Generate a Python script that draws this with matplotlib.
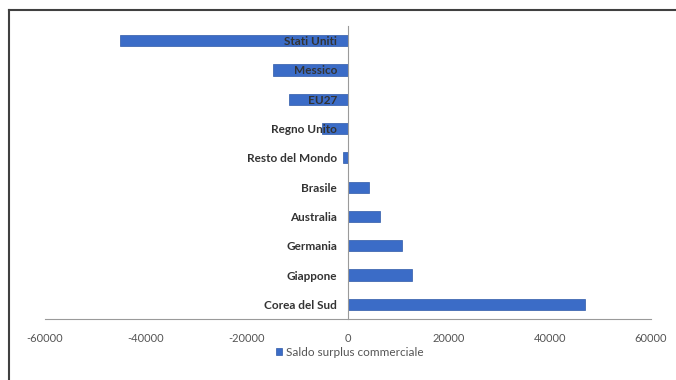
import matplotlib
matplotlib.use("Agg")
import matplotlib.pyplot as plt
from matplotlib.lines import Line2D
from matplotlib.ticker import FuncFormatter

categories = ["Corea del Sud", "Giappone", "Germania", "Australia", "Brasile",
              "Resto del Mondo", "Regno Unito", "EU27", "Messico", "Stati Uniti"]
values = [46900, 12600, 10700, 6400, 4100, -1000, -5200, -11700, -14900, -45200]
series_name = "Saldo surplus commerciale"
xticks = [-60000, -40000, -20000, 0, 20000, 40000, 60000]

plt.rcParams['font.family'] = ['Lato', 'DejaVu Sans']

fig = plt.figure(figsize=(6.76, 3.8), dpi=100)
fig.patch.set_facecolor("white")
ax = fig.add_axes([45/676, 1-319/380, (651-45)/676, (319-26)/380])

for s in ["top", "right"]:
    ax.spines[s].set_visible(False)
ax.spines["left"].set_position(("data", 0))
ax.spines["left"].set_color("#9a9a9a")
ax.spines["left"].set_linewidth(0.8)
ax.spines["bottom"].set_color("#9a9a9a")
ax.spines["bottom"].set_linewidth(0.8)

ypos = list(range(len(categories)))
ax.barh(ypos, values, height=0.38, color="#3b6cc7", edgecolor="#2f5aa8",
        linewidth=0.5, label=series_name, zorder=1)

ax.set_xlim(-60000, 60000)
ax.set_ylim(-0.5, len(categories) - 0.5)
ax.set_xticks(xticks)
ax.xaxis.set_major_formatter(FuncFormatter(lambda v, p: f"{int(v)}"))
ax.set_yticks(ypos)
ax.set_yticklabels(categories, fontweight="bold", color="#333333")

ax.tick_params(axis="y", length=0, pad=8, labelsize=8.5)
ax.tick_params(axis="x", length=0, pad=10, labelsize=8, labelcolor="#555555")

leg = fig.legend(loc="center", bbox_to_anchor=(350/676, 1-352/380), frameon=False,
                 fontsize=8.5, handlelength=0.5, handleheight=0.5, handletextpad=0.3,
                 labelcolor="#555555")

# figure border (top and left visible)
fig.add_artist(Line2D([9/676, 9/676], [0, 1-10/380], transform=fig.transFigure,
                      color="#404040", linewidth=1.5))
fig.add_artist(Line2D([9/676, 1], [1-10/380, 1-10/380], transform=fig.transFigure,
                      color="#404040", linewidth=1.5))

fig.savefig("out.png", dpi=100, facecolor="white")
